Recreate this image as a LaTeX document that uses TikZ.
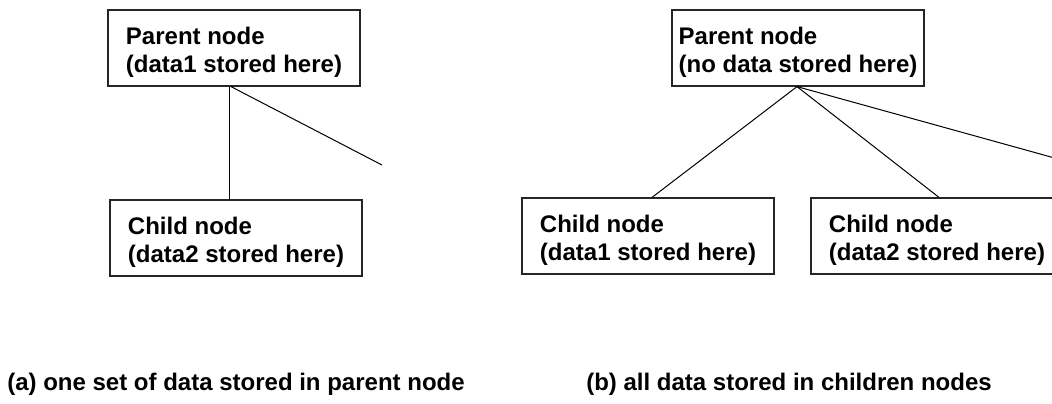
\documentclass[tikz,border=0pt]{standalone}
\usepackage{fontspec}
\setmainfont{Liberation Sans}
\begin{document}
\begin{tikzpicture}[x=0.5pt,y=-0.5pt,
  box/.style={draw=black!85, line width=0.6pt, minimum width=126pt, minimum height=38pt,
    align=left, inner sep=0pt, font=\bfseries\fontsize{12}{14}\selectfont},
  edge/.style={line width=0.5pt, draw=black},
  captext/.style={anchor=base, inner sep=0pt, font=\bfseries\fontsize{12}{14}\selectfont}]
\useasboundingbox (0,0) rectangle (1052,403);
\fill[white] (0,0) rectangle (1052,403);
\clip (0,0) rectangle (1052,403);
% (a)
\node[box] (pa) at (234,48) {Parent node\rule{0pt}{13pt}\\(data1 stored here)};
\node[box] (ca) at (236,238) {Child node\rule{0pt}{13pt}\\(data2 stored here)};
\coordinate (ac) at (382,165);
\draw[edge] ([xshift=-2.5pt]pa.south) -- ([xshift=-3.5pt]ca.north);
\draw[edge] ([xshift=-1.5pt]pa.south) -- (ac);
% (b)
\node[box] (pb) at (798,48) {Parent node\rule{0pt}{13pt}\\(no data stored here)};
\node[box] (cbl) at (648,236) {Child node\rule{0pt}{13pt}\\(data1 stored here)};
\node[box] (cbr) at (937,236) {Child node\rule{0pt}{13pt}\\(data2 stored here)};
\coordinate (bc3) at (1199,198);
\draw[edge] ([xshift=-0.5pt]pb.south) -- ([xshift=2pt]cbl.north);
\draw[edge] ([xshift=-0.5pt]pb.south) -- ([xshift=1pt]cbr.north);
\draw[edge] ([xshift=-0.5pt]pb.south) -- (bc3);
% captions
\node[captext] (capa) at (236,390) {(a) one set of data stored in parent node};
\node[captext] (capb) at (789,390) {(b) all data stored in children nodes};
\end{tikzpicture}
\end{document}
